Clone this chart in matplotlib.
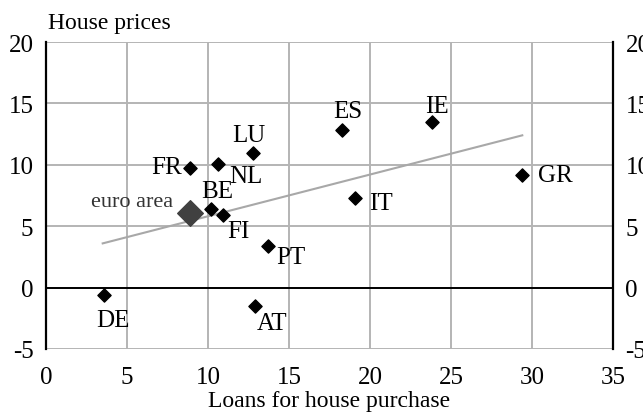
import numpy as np
import matplotlib.pyplot as plt

plt.rcParams['font.family'] = ['Liberation Serif', 'DejaVu Serif']
plt.rcParams['axes.unicode_minus'] = False

#----- Data ------------------------------------------------------------------------------------

countries = ["DE", "AT", "PT", "FI", "BE", "FR", "NL", "LU", "ES", "IE", "GR", "IT"]
loans = [3.6, 12.9, 13.7, 10.9, 10.2, 8.9, 10.6, 12.8, 18.3, 23.8, 29.4, 19.1]
house = [-0.6, -1.5, 3.4, 5.9, 6.4, 9.7, 10.1, 11.0, 12.8, 13.5, 9.2, 7.3]

ea_loans = 8.9
ea_house = 6.1

trend_x = [3.5, 29.4]
trend_y = [3.6, 12.4]

# label offsets in points from the marker (dx, dy, ha), text baseline at dy
label_pos = {
    "DE": (6.5, -22, "center"),
    "AT": (1.5, -16.5, "left"),
    "PT": (6, -12, "left"),
    "FI": (3.5, -16, "left"),
    "BE": (4.5, 8.5, "center"),
    "FR": (-6, -3.5, "right"),
    "NL": (8, -13, "left"),
    "LU": (-3.5, 8.5, "center"),
    "ES": (3.5, 10, "center"),
    "IE": (3.5, 7, "center"),
    "GR": (11, -4.5, "left"),
    "IT": (10, -8, "left"),
}

#----- Plot ------------------------------------------------------------------------------------

fig = plt.figure(figsize=(6.43, 4.14), dpi=100)
ax = fig.add_axes([46/643, 64/414, 567/643, 307/414])

ax.set_xlim(0, 35)
ax.set_ylim(-5, 20)
ax.set_xticks([0, 5, 10, 15, 20, 25, 30, 35])
ax.set_yticks([-5, 0, 5, 10, 15, 20])

ax.grid(True, color="#b4b4b4", linewidth=1.4)
ax.set_axisbelow(True)
ax.axhline(0, color="black", linewidth=1.4, zorder=2)

for s in ["top", "bottom"]:
    ax.spines[s].set_visible(False)
ax.spines["left"].set_linewidth(1.6)
ax.spines["right"].set_linewidth(1.6)

ax.tick_params(axis="x", length=0, pad=12, labelsize=18)
ax.tick_params(axis="y", length=0, pad=9, labelsize=18, right=True, labelright=True)

ax.plot(trend_x, trend_y, color="#a8a8a8", linewidth=1.5, zorder=3)

ax.scatter(loans, house, marker="D", s=45, color="black", zorder=4)
ax.scatter([ea_loans], [ea_house], marker="D", s=170, color="#404040", zorder=4)

for c, x, y in zip(countries, loans, house):
    dx, dy, ha = label_pos[c]
    ax.annotate(c, (x, y), xytext=(dx, dy), textcoords="offset points",
                ha=ha, va="baseline", fontsize=18, zorder=5)

ax.annotate("euro area", (ea_loans, ea_house), xytext=(-12, 5), textcoords="offset points",
            ha="right", va="baseline", fontsize=16, color="#333333", zorder=5)

fig.text(48/643, 1 - 23/414, "House prices", ha="left", va="center", fontsize=17)
fig.text(329/643, 1 - 402/414, "Loans for house purchase", ha="center", va="center", fontsize=17)

plt.savefig("out.png", dpi=100)
